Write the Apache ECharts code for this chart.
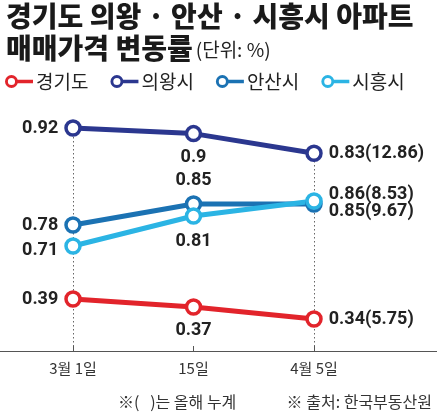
<!DOCTYPE html>
<html>
<head>
<meta charset="utf-8">
<script src="https://cdn.jsdelivr.net/npm/echarts@6/dist/echarts.min.js"></script>
<style>
  html, body { margin: 0; padding: 0; background: #fff; }
  #chart { width: 437px; height: 418px; }
</style>
</head>
<body>
<div id="chart"></div>
<script>
// 날짜, 지역별 주간 변동률(%), 올해 누계
var categories = ['3월 1일', '15일', '4월 5일'];
var names = ['경기도', '의왕시', '안산시', '시흥시'];
var gyeonggi = [0.39, 0.37, 0.34];
var uiwang = [0.92, 0.9, 0.83];
var ansan = [0.78, 0.85, 0.85];
var siheung = [0.71, 0.81, 0.86];
var ytdTotals = [5.75, 12.86, 9.67, 8.53];

var colors = ['#e2242b', '#2b378f', '#1b72b3', '#2bb4e4'];
var cjk = '"Noto Sans CJK KR", sans-serif';
var num = '"Liberation Sans Narrow", "Roboto", "Liberation Sans", sans-serif';
var ring = 'path://M1,10 A9,9 0 1,1 19,10 A9,9 0 1,1 1,10 Z M5,10 A5,5 0 1,0 15,10 A5,5 0 1,0 5,10 Z M18,7.5 L40,7.5 L40,12.5 L18,12.5 Z';

var myChart = echarts.init(document.getElementById('chart'));

// 지역별로 그리드를 나눠 그림 (원본처럼 축이 끊겨 있음)
function catAxis(grid, opts) {
  return Object.assign({
    type: 'category',
    gridIndex: grid,
    data: categories,
    boundaryGap: false,
    axisLine: { show: false },
    axisTick: { show: false },
    axisLabel: { show: false },
    splitLine: { show: false }
  }, opts);
}

var dotted = { color: '#666', width: 1, type: [1.5, 2.5] };

function makeSeries(i, values, grid, positions, offsets) {
  return {
    name: names[i],
    type: 'line',
    xAxisIndex: grid,
    yAxisIndex: grid,
    clip: false,
    symbol: 'circle',
    symbolSize: 14,
    lineStyle: { color: colors[i], width: 5 },
    itemStyle: { color: '#fff', borderColor: colors[i], borderWidth: 3.5 },
    label: {
      show: true,
      distance: 6,
      color: '#222',
      fontFamily: num,
      fontWeight: 'bold',
      fontSize: 18,
      formatter: function(p) {
        return p.dataIndex === values.length - 1 ? p.value + '(' + ytdTotals[i] + ')' : p.value;
      }
    },
    data: values.map(function(v, k) {
      return { value: v, label: { position: positions[k], offset: offsets ? offsets[k] : [0, 0] } };
    })
  };
}

var option = {
  animation: false,
  title: [
    {
      text: '경기도 의왕 · 안산 · 시흥시 아파트',
      left: 6, top: 2, padding: 0,
      textStyle: { fontFamily: cjk, fontWeight: 900, fontSize: 28, color: '#1a1a1a' }
    },
    {
      text: '{b|매매가격 변동률}{s|(단위: %)}',
      left: 6, top: 34, padding: 0,
      textStyle: {
        rich: {
          b: { fontFamily: cjk, fontWeight: 900, fontSize: 28, color: '#1a1a1a' },
          s: { fontFamily: cjk, fontWeight: 'normal', fontSize: 19, color: '#222', padding: [4, 0, 0, 3] }
        }
      }
    },
    {
      text: '※(   )는 올해 누계',
      left: 118, top: 394, padding: 0,
      textStyle: { fontFamily: cjk, fontWeight: 'normal', fontSize: 16, color: '#333' }
    },
    {
      text: '※ 출처: 한국부동산원',
      right: 5, top: 394, padding: 0,
      textStyle: { fontFamily: cjk, fontWeight: 'normal', fontSize: 16, color: '#333' }
    }
  ],
  legend: {
    left: 5, top: 72, padding: 0,
    icon: ring,
    itemWidth: 28, itemHeight: 14, itemGap: 22,
    textStyle: { fontFamily: cjk, fontSize: 19, color: '#222', padding: [0, 0, 0, -2] },
    data: names.map(function(n, i) {
      return { name: n, itemStyle: { color: colors[i], borderWidth: 0 } };
    })
  },
  grid: [
    { left: 73, right: 123, top: 121, bottom: 67 },
    { left: 73, right: 123, top: 153, bottom: 67 },
    { left: 73, right: 123, top: 295, bottom: 67 },
    { left: 0, right: 0, top: 300, bottom: 67 }
  ],
  xAxis: [
    catAxis(0, { splitLine: { show: true, interval: function(idx) { return idx === 0; }, lineStyle: dotted } }),
    catAxis(1, { splitLine: { show: true, interval: function(idx) { return idx === 2; }, lineStyle: dotted } }),
    catAxis(2, {
      axisTick: { show: true, inside: true, length: 5, alignWithLabel: true, lineStyle: { color: '#555' } },
      axisLabel: { show: true, margin: 10, fontFamily: cjk, fontSize: 15, color: '#333' }
    }),
    { type: 'value', gridIndex: 3, min: 0, max: 1,
      axisLine: { show: true, lineStyle: { color: '#555', width: 1 } },
      axisTick: { show: false }, axisLabel: { show: false }, splitLine: { show: false } }
  ],
  yAxis: [
    { type: 'value', gridIndex: 0, min: 0.125, max: 0.945, show: false },
    { type: 'value', gridIndex: 1, min: 0.36, max: 1.02, show: false },
    { type: 'value', gridIndex: 2, min: 0.26, max: 0.40, show: false },
    { type: 'value', gridIndex: 3, min: 0, max: 1, show: false }
  ],
  series: [
    makeSeries(0, gyeonggi, 2, ['left', 'bottom', 'right']),
    makeSeries(1, uiwang, 0, ['left', 'bottom', 'right']),
    makeSeries(2, ansan, 1, ['left', 'top', 'right'], [[0, 0], [0, 0], [0, 7]]),
    makeSeries(3, siheung, 1, ['left', 'bottom', 'right'], [[0, 4], [0, 2], [0, -7]])
  ]
};

myChart.setOption(option);
</script>
</body>
</html>
